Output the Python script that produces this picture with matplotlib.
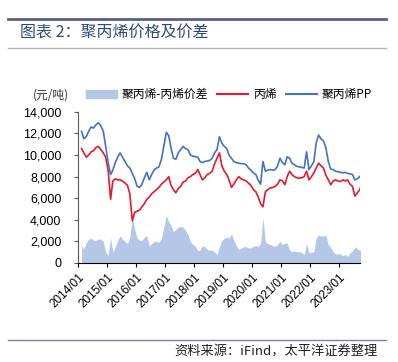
import pandas as pd
import matplotlib.pyplot as plt
import matplotlib.dates as mdates
from matplotlib.lines import Line2D
from matplotlib.patches import Patch

plt.rcParams['font.family'] = ['Noto Sans CJK SC', 'DejaVu Sans']

# monthly readings, 2014/01 - 2023/09 (元/吨)
months = pd.date_range('2014-01-15', periods=117, freq='MS') + pd.Timedelta(days=14)
pp = [12200, 11500, 11700, 12200, 12600, 12500, 12800, 13000, 12700, 12200,
      10800, 9300, 8200, 8600, 9300, 9800, 10200, 9800, 9400, 9000,
      8800, 8300, 7800, 7100, 7000, 7300, 7900, 8400, 7700, 8200,
      8600, 8800, 8900, 9600, 10800, 12100, 11800, 10700, 9700, 9600,
      10200, 10500, 10800, 10600, 10500, 10000, 9900, 9850, 9800, 9400,
      9300, 9400, 9450, 9500, 9700, 10200, 10500, 11700, 11100, 10800,
      10600, 10000, 9700, 9400, 9300, 9250, 9200, 9200, 9100, 8800,
      8600, 8350, 8200, 7700, 7300, 9400, 8500, 8600, 8650, 8600,
      8650, 9000, 9700, 9300, 9100, 9850, 9700, 9250, 9100, 8950,
      8900, 8850, 8800, 10300, 8650, 9000, 9400, 11100, 11850, 11500,
      11300, 10700, 9400, 8700, 8650, 8500, 8450, 8400, 8350, 8400,
      8300, 8250, 8200, 7700, 7800, 8000, 8300]
propylene = [10600, 10200, 9800, 10000, 10300, 10400, 10700, 10800, 10500, 10200,
             9800, 8600, 5900, 7600, 7800, 7700, 7700, 7600, 7400, 7200,
             6400, 3900, 4700, 4800, 4900, 5200, 5500, 5900, 6100, 6400,
             6600, 6800, 7000, 7300, 7500, 7700, 8000, 7200, 6800, 6500,
             6900, 7100, 7500, 7600, 7900, 8000, 8200, 8300, 8650, 8200,
             7700, 7900, 8200, 8300, 8500, 9200, 9700, 10200, 9000, 8500,
             8200, 7700, 7000, 7300, 7700, 8000, 7800, 7700, 7600, 7400,
             7200, 6800, 6600, 6150, 5500, 5200, 6600, 6800, 6950, 7000,
             7100, 7300, 7700, 7600, 7250, 8000, 8500, 8200, 8000, 7900,
             7850, 7900, 8000, 8500, 7700, 8000, 8350, 8800, 9250, 9000,
             8800, 8150, 7700, 7250, 7600, 7700, 7600, 7550, 7700, 7600,
             7700, 7300, 7100, 6200, 6500, 6800, 7400]
spread = [a - b for a, b in zip(pp, propylene)]

yticks = [0, 2000, 4000, 6000, 8000, 10000, 12000, 14000]
xticks = pd.date_range('2014-01-01', '2023-01-01', freq='YS')

fig = plt.figure(figsize=(3.98, 3.62), dpi=100)
ax = fig.add_axes([0.196, 0.2735, 0.709, 0.4175])

ax.fill_between(months, spread, 0, color='#B4C7E7', lw=0)
ax.plot(months, propylene, color='#E8192C', lw=1.2)
ax.plot(months, pp, color='#4472C4', lw=1.2)

ax.set_ylim(0, 14000)
ax.set_xlim(pd.Timestamp('2014-01-01'), pd.Timestamp('2023-09-20'))
ax.set_yticks(yticks)
ax.set_yticklabels(['{:,}'.format(v) for v in yticks], family='Liberation Sans', fontsize=9)
ax.set_xticks(xticks)
ax.xaxis.set_major_formatter(mdates.DateFormatter('%Y/%m'))
for lab in ax.get_xticklabels():
    lab.set_rotation(45)
    lab.set_ha('right')
    lab.set_rotation_mode('anchor')
    lab.set_fontsize(8.5)
    lab.set_family('Liberation Sans')
ax.tick_params(axis='x', length=3, width=0.8, color='black', pad=3)
ax.tick_params(axis='y', length=3, width=0.8, color='#595959', pad=9)
for s in ['top', 'right']:
    ax.spines[s].set_visible(False)
ax.spines['bottom'].set_color('black')
ax.spines['left'].set_color('#595959')

handles = [Patch(color='#B4C7E7'),
           Line2D([], [], color='#E8192C', lw=1.5),
           Line2D([], [], color='#4472C4', lw=1.5)]
fig.legend(handles, ['聚丙烯-丙烯价差', '丙烯', '聚丙烯PP'], ncol=3, frameon=False,
           loc='center', bbox_to_anchor=(0.575, 0.738), fontsize=8.5,
           handlelength=2.6, handletextpad=0.4, columnspacing=0.8, handleheight=0.6)
fig.text(0.083, 0.738, '(元/吨)', fontsize=8.5, va='center', color='#333333')

# header and footer
fig.add_artist(Line2D([0.02, 0.97], [1 - 19 / 362] * 2, color='#5B5E8C', lw=2))
fig.add_artist(Line2D([0.02, 0.97], [1 - 48 / 362] * 2, color='#AEB0CF', lw=1))
fig.text(0.05, 1 - 33 / 362, '图表 2：聚丙烯价格及价差', fontsize=11.5, color='#2F4A7A', va='center')
fig.add_artist(Line2D([0.02, 0.97], [1 - 340 / 362] * 2, color='#7F7FB0', lw=1))
fig.text(0.95, 1 - 352 / 362, '资料来源：iFind，太平洋证券整理', fontsize=9.5,
         style='italic', ha='right', va='center', color='#222222')

fig.savefig('out.png', dpi=100)
